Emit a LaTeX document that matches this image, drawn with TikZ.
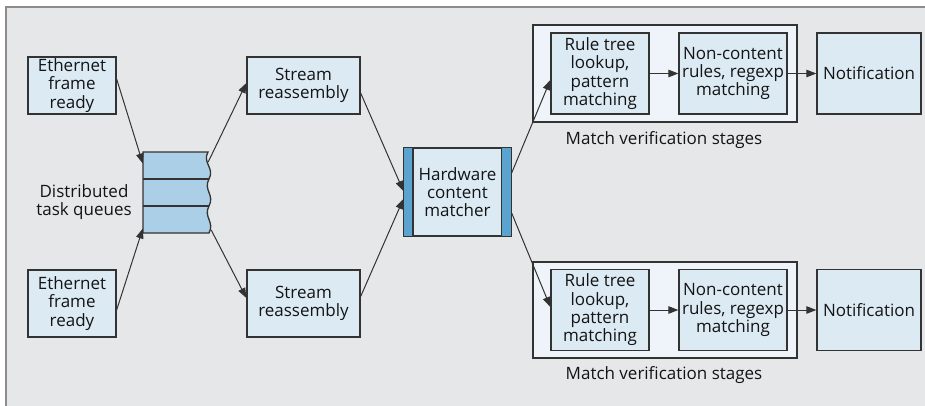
\documentclass[tikz,border=0pt]{standalone}
\usepackage{fontspec}
\setmainfont{Open Sans}
\usetikzlibrary{arrows.meta,calc}
\definecolor{bg}{HTML}{E6E7E8}
\definecolor{boxfill}{HTML}{DCEAF4}
\definecolor{qfill}{HTML}{AACFE6}
\definecolor{barfill}{HTML}{5BA4CF}
\definecolor{stagefill}{HTML}{EEF4F9}
\definecolor{edgec}{HTML}{333333}
\definecolor{framec}{HTML}{8C8C8C}
\begin{document}
\begin{tikzpicture}[x=1pt,y=-1pt,
  every node/.style={font=\fontsize{17}{18.3}\selectfont, text=black!92},
  blk/.style={draw=edgec, fill=boxfill, line width=1.3pt, align=center, inner sep=0pt},
  stagebox/.style={draw=edgec, fill=stagefill, line width=1.3pt, inner sep=0pt},
  arr/.style={-{Triangle[length=10pt,width=7.5pt]}, line width=1pt, draw=edgec},
  lbl/.style={align=center, inner sep=0pt}]
\useasboundingbox (0,0) rectangle (925,406);
\fill[bg] (6,7) rectangle (925,406);
\draw[framec, line width=2pt] (6,406) -- (6,7) -- (925,7);

% Ethernet
\node[blk, minimum width=88pt, minimum height=57pt] (et1) at (72,85.5) {Ethernet\\frame\\ready};
\node[blk, minimum width=88pt, minimum height=67pt] (et2) at (72,303.5) {Ethernet\\frame\\ready};

% queue
\node[minimum width=67pt, minimum height=81pt, inner sep=0pt] (q) at (176.5,192.5) {};
\draw[draw=edgec, fill=qfill, line width=1.3pt]
  (143,152) -- (208,152)
  .. controls (202,163) and (215,168) .. (209,179)
  .. controls (203,190) and (215,195) .. (209,206)
  .. controls (203,217) and (215,222) .. (209,233)
  -- (143,233) -- cycle;
\draw[edgec, line width=1.3pt] (143,179) -- (209,179) (143,206) -- (209,206);
\node[lbl] (dtq) at (84,202) {Distributed\\task queues};

% stream reassembly
\node[blk, minimum width=113pt, minimum height=57pt] (sr1) at (303.5,85.5) {Stream\\reassembly};
\node[blk, minimum width=113pt, minimum height=67pt] (sr2) at (303.5,303.5) {Stream\\reassembly};

% hardware content matcher
\node[blk, minimum width=107pt, minimum height=88pt] (hcm) at (457.5,192) {Hardware\\content\\matcher};
\draw[draw=edgec, fill=barfill, line width=1.3pt] (hcm.north west) rectangle ([xshift=9.5pt]hcm.south west);
\draw[draw=edgec, fill=barfill, line width=1.3pt] (hcm.north east) rectangle ([xshift=-10pt]hcm.south east);

% stages top
\node[stagebox, minimum width=264pt, minimum height=97pt] (st1) at (665,73.5) {};
\node[blk, minimum width=98pt, minimum height=81pt] (r1) at (600,73.5) {Rule tree\\lookup,\\pattern\\matching};
\node[blk, minimum width=108pt, minimum height=81pt] (n1) at (733,73.5) {Non-content\\rules, regexp\\matching};
\node[blk, minimum width=104pt, minimum height=81pt] (nt1) at (869,73.5) {Notification};
\node[lbl] (lab1) at (664,140) {Match verification stages};

% stages bottom
\node[stagebox, minimum width=264pt, minimum height=96pt] (st2) at (665,310) {};
\node[blk, minimum width=98pt, minimum height=81pt] (r2) at (600,310) {Rule tree\\lookup,\\pattern\\matching};
\node[blk, minimum width=108pt, minimum height=81pt] (n2) at (733,310) {Non-content\\rules, regexp\\matching};
\node[blk, minimum width=104pt, minimum height=81pt] (nt2) at (869,310) {Notification};
\node[lbl] (lab2) at (664,375) {Match verification stages};

% arrows
\draw[arr] ([yshift=6.5pt]et1.east) -- ([yshift=29pt]q.west);
\draw[arr] ([yshift=-6.5pt]et2.east) -- ([yshift=-36pt]q.west);
\draw[arr] ([xshift=-2pt,yshift=30.5pt]q.east) -- ([yshift=2.5pt]sr1.west);
\draw[arr] ([xshift=1pt,yshift=-37.5pt]q.east) -- ([yshift=5.5pt]sr2.west);
\draw[arr] ([yshift=-7.5pt]sr1.east) -- ([yshift=1pt]hcm.west);
\draw[arr] ([yshift=7pt]sr2.east) -- ([yshift=-7pt]hcm.west);
\draw[arr] ([yshift=19pt]hcm.east) -- ([yshift=-6.5pt]r1.west);
\draw[arr] ([yshift=-21pt]hcm.east) -- ([yshift=3pt]r2.west);
\draw[arr] (r1.east) -- (n1.west);
\draw[arr] (n1.east) -- (nt1.west);
\draw[arr] (r2.east) -- (n2.west);
\draw[arr] (n2.east) -- (nt2.west);
\end{tikzpicture}
\end{document}
